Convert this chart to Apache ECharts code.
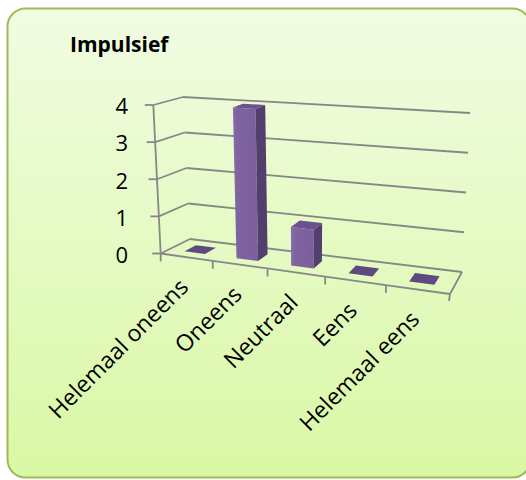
<!DOCTYPE html>
<html><head><meta charset="utf-8">
<script src="https://cdn.jsdelivr.net/npm/echarts@6/dist/echarts.min.js"></script>
<style>html,body{margin:0;padding:0;background:#fff}#c{width:526px;height:480px}</style>
</head><body><div id="c"></div>
<script>
// ---- data ----
const categories = ['Helemaal oneens', 'Oneens', 'Neutraal', 'Eens', 'Helemaal eens'];
const values = [0, 4, 1, 0, 0];
const yTicks = [0, 1, 2, 3, 4];
const titleText = 'Impulsief';

// ---- layout / 3D projection (screen corners of the chart box) ----
const FONT = '"Open Sans", "Liberation Sans", sans-serif';
const GRID = { left: 153, top: 105, width: 297, height: 149 };
const F00 = [160.7, 253.5], F04 = [153.3, 105], F50 = [450, 294], F54 = [458.5, 128];
const B00 = [190, 239], B04 = [183, 97], B50 = [462, 272], B54 = [470, 113];
const K = -0.1217;          // foreshortening along category direction
const BAR_W = 0.4;          // fraction of a category band
const DEPTH = [0.3, 0.7];   // depth range of bars
const LINE = '#878787';

function lerp(a, b, f) { return [a[0] + (b[0] - a[0]) * f, a[1] + (b[1] - a[1]) * f]; }
function proj(t, w, v) {
  const s = t * (1 + K) / (1 + K * t);
  const front = lerp(lerp(F00, F50, s), lerp(F04, F54, s), v);
  const back = lerp(lerp(B00, B50, s), lerp(B04, B54, s), v);
  return lerp(front, back, w);
}
function norm(params, pt) {
  const cs = params.coordSys;
  return [(pt[0] - cs.x) / cs.width, (cs.y + cs.height - pt[1]) / cs.height];
}
function line(a, b, extra) {
  return { type: 'line', shape: { x1: a[0], y1: a[1], x2: b[0], y2: b[1] },
    style: Object.assign({ stroke: LINE, lineWidth: 1.8 }, extra || {}), silent: true };
}
function poly(pts, fill) {
  return { type: 'polygon', shape: { points: pts }, style: { fill: fill }, silent: true };
}

const chart = echarts.init(document.getElementById('c'), null, { renderer: 'svg' });
chart.setOption({
  animation: false,
  backgroundColor: '#ffffff',
  graphic: [{
    type: 'rect', z: -10, silent: true,
    shape: { x: 7.5, y: 8.5, width: 523, height: 469, r: 18 },
    style: {
      fill: new echarts.graphic.LinearGradient(0, 0, 0, 1, [
        { offset: 0, color: '#F1FCE2' }, { offset: 1, color: '#D9F8A5' }]),
      stroke: '#9BBB59', lineWidth: 2
    }
  }],
  title: {
    text: titleText, left: 65, top: 28,
    textStyle: { fontFamily: FONT, fontWeight: 'bold', fontSize: 21, color: '#000' }
  },
  grid: GRID,
  xAxis: { type: 'category', data: categories, show: false },
  yAxis: {
    type: 'value', min: 0, max: 4, interval: 1,
    axisLine: { show: false }, axisTick: { show: false }, splitLine: { show: false },
    axisLabel: { margin: 25, fontFamily: FONT, fontSize: 22, color: '#000' }
  },
  series: [
    { // walls: gridlines + value ticks
      type: 'custom', z: 1, data: yTicks.map(v => [0, v]),
      renderItem: function (params, api) {
        const vv = norm(params, api.coord([0, api.value(1)]))[1];
        const a = proj(0, 0, vv), b = proj(0, 1, vv), c = proj(1, 1, vv);
        return { type: 'group', children: [
          line(a, b), line(b, c), line([a[0] - 8.5, a[1]], a)
        ] };
      }
    },
    { // floor frame, category ticks, category labels
      type: 'custom', z: 1, data: categories.map((c, i) => [i, 0]),
      renderItem: function (params, api) {
        const i = api.value(0);
        const band = api.size([1, 0])[0] / params.coordSys.width;
        const tc = norm(params, api.coord([i, 0]))[0];
        const t0 = tc - band / 2, t1 = tc + band / 2;
        const children = [];
        const p0 = proj(t0, 0, 0), p1 = proj(t1, 0, 0);
        children.push(line(p0, p1));
        children.push(line(p0, [p0[0], p0[1] + 8]));
        if (i === categories.length - 1) {
          children.push(line(p1, [p1[0] - 1, p1[1] + 7]));
          children.push(line(p1, proj(t1, 1, 0)));
        }
        if (i === 0) children.push(line(p0, proj(0, 0, 1)));
        const pc = proj(tc, 0, 0);
        children.push({
          type: 'text', x: pc[0] - 3, y: pc[1] + 25, rotation: Math.PI / 4, silent: true,
          style: { text: categories[i], align: 'right', verticalAlign: 'middle',
            fontFamily: FONT, fontSize: 23, fill: '#000' }
        });
        return { type: 'group', children: children };
      }
    },
    { // 3D bars
      type: 'custom', z: 3, data: values.map((v, i) => [i, v]),
      renderItem: function (params, api) {
        const i = api.value(0);
        const cs = params.coordSys;
        const band = api.size([1, 0])[0] / cs.width;
        const n = norm(params, api.coord([i, api.value(1)]));
        const tc = n[0], vv = n[1];
        const t0 = tc - band * BAR_W / 2, t1 = tc + band * BAR_W / 2;
        const w0 = DEPTH[0], w1 = DEPTH[1];
        const front = [proj(t0, w0, 0), proj(t1, w0, 0), proj(t1, w0, vv), proj(t0, w0, vv)];
        const side = [proj(t1, w0, 0), proj(t1, w1, 0), proj(t1, w1, vv), proj(t1, w0, vv)];
        const top = [proj(t0, w0, vv), proj(t1, w0, vv), proj(t1, w1, vv), proj(t0, w1, vv)];
        const children = [];
        if (vv > 0) {
          children.push(poly(front, new echarts.graphic.LinearGradient(0, 0, 1, 0, [
            { offset: 0, color: '#8A6EAD' }, { offset: 0.15, color: '#8064A2' }, { offset: 1, color: '#7B5F9D' }])));
          children.push(poly(side, '#533F6E'));
          children.push(poly(top, '#6A5290'));
        } else {
          children.push(poly(top, '#5F4A80'));
        }
        return { type: 'group', children: children };
      }
    }
  ]
});
</script></body></html>
